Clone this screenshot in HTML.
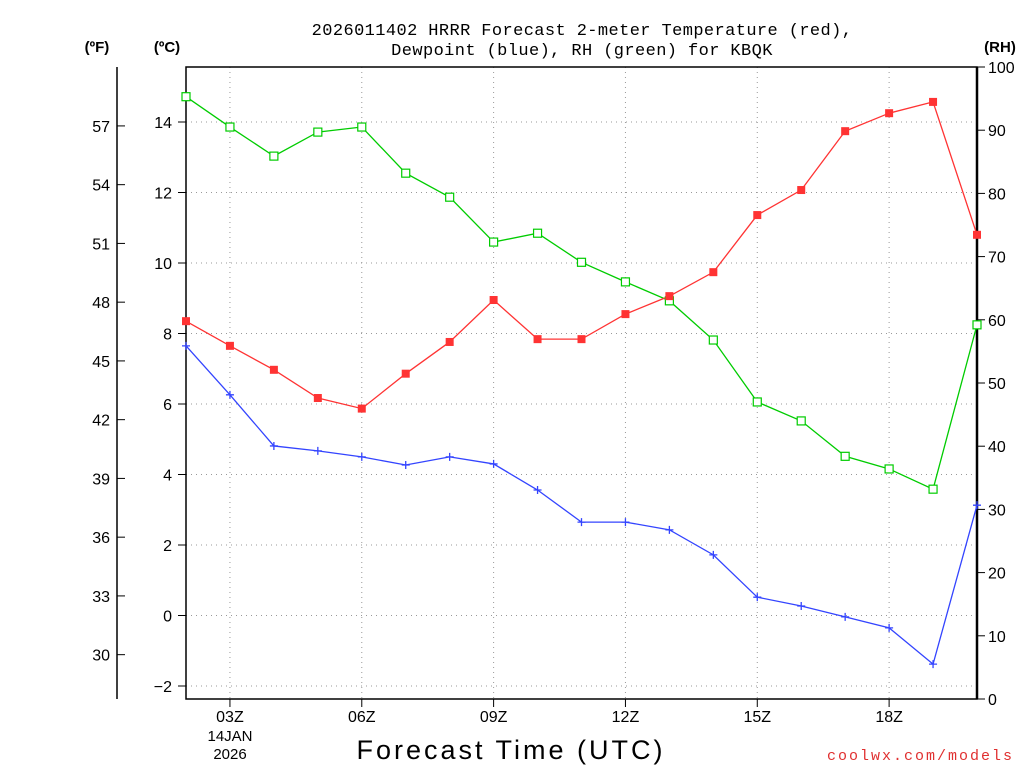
<!DOCTYPE html>
<html><head><meta charset="utf-8"><style>
html,body{margin:0;padding:0;background:#fff;}
svg{display:block;font-family:"Liberation Sans",sans-serif;}
</style></head><body>
<svg id="chart" width="1024" height="768" viewBox="0 0 1024 768">
<g id="grid"></g>
<g id="axes"></g>
<g id="series"></g>
<text x="582" y="35" text-anchor="middle" font-size="17" font-family="Liberation Mono, monospace" letter-spacing="0.4">2026011402 HRRR Forecast 2-meter Temperature (red),</text>
<text x="582" y="55" text-anchor="middle" font-size="17" font-family="Liberation Mono, monospace" letter-spacing="0.4">Dewpoint (blue), RH (green) for KBQK</text>
<text x="97" y="52" text-anchor="middle" font-size="15" font-weight="bold">(ºF)</text>
<text x="167" y="52" text-anchor="middle" font-size="15" font-weight="bold">(ºC)</text>
<text x="1000" y="52" text-anchor="middle" font-size="15" font-weight="bold">(RH)</text>
<text x="511" y="759" text-anchor="middle" font-size="27" letter-spacing="3">Forecast Time (UTC)</text>
<text x="1014" y="760" text-anchor="end" font-size="15" font-family="Liberation Mono, monospace" fill="#e03030" letter-spacing="2">coolwx.com/models</text>
<text x="230" y="741" text-anchor="middle" font-size="15">14JAN</text>
<text x="230" y="759" text-anchor="middle" font-size="15">2026</text>
</svg>
<script>
const hours=[2,3,4,5,6,7,8,9,10,11,12,13,14,15,16,17,18,19,20];
const tempC=[8.35,7.65,6.97,6.17,5.87,6.86,7.76,8.95,7.84,7.84,8.55,9.06,9.74,11.36,12.07,13.74,14.25,14.57,10.8];
const dewC=[7.65,6.26,4.81,4.67,4.50,4.27,4.50,4.30,3.56,2.65,2.65,2.43,1.72,0.52,0.27,-0.04,-0.35,-1.38,3.13];
const rh=[95.3,90.5,85.9,89.7,90.5,83.2,79.4,72.3,73.7,69.1,66.0,63.0,56.8,47.0,44.0,38.4,36.4,33.2,59.2];
const cTicks=[-2,0,2,4,6,8,10,12,14];
const fTicks=[30,33,36,39,42,45,48,51,54,57];
const rhTicks=[0,10,20,30,40,50,60,70,80,90,100];
const xTicks=[3,6,9,12,15,18];
const xTickLabels=["03Z","06Z","09Z","12Z","15Z","18Z"];

const NS="http://www.w3.org/2000/svg";
const L=186,R=977,T=67,B=699;
const xS=h=>L+(h-2)*(R-L)/18;
const yC=c=>615.5-c*35.25;
const yF=f=>yC((f-32)/1.8);
const yRH=v=>B-v*(B-T)/100;
function mk(tag,attrs,parent,txt){const e=document.createElementNS(NS,tag);for(const k in attrs)e.setAttribute(k,attrs[k]);if(txt!==undefined)e.textContent=txt;document.getElementById(parent).appendChild(e);return e;}

cTicks.forEach(c=>{const e=mk('line',{x1:L,x2:R,y1:yC(c),y2:yC(c),stroke:'#999','stroke-dasharray':'1,4'},'grid');

});
xTicks.forEach(h=>{const e=mk('line',{x1:xS(h),x2:xS(h),y1:T,y2:B,stroke:'#999','stroke-dasharray':'1,4'},'grid');

});

const fr=mk('rect',{x:L,y:T,width:R-L,height:B-T,fill:'none',stroke:'#000','stroke-width':1.5},'axes');


const rax=mk('line',{x1:R,x2:R,y1:T,y2:B,stroke:'#000','stroke-width':2.5},'axes');


const fax=mk('line',{x1:117,x2:117,y1:T,y2:B,stroke:'#000','stroke-width':1.5},'axes');



cTicks.forEach(c=>{mk('line',{x1:L-8,x2:L,y1:yC(c),y2:yC(c),stroke:'#000'},'axes');
const t=mk('text',{x:L-14,y:yC(c)+6,'text-anchor':'end','font-size':16},'axes',c<0?'\u2212'+(-c):String(c));

});
fTicks.forEach(f=>{mk('line',{x1:117,x2:125,y1:yF(f),y2:yF(f),stroke:'#000'},'axes');
const t=mk('text',{x:110,y:yF(f)+6,'text-anchor':'end','font-size':16},'axes',String(f));

});
rhTicks.forEach(v=>{mk('line',{x1:R,x2:R+8,y1:yRH(v),y2:yRH(v),stroke:'#000'},'axes');
const t=mk('text',{x:988,y:yRH(v)+6,'font-size':16},'axes',String(v));

});
xTicks.forEach((h,i)=>{mk('line',{x1:xS(h),x2:xS(h),y1:B,y2:B+8,stroke:'#000'},'axes');
const t=mk('text',{x:xS(h),y:722,'text-anchor':'middle','font-size':16},'axes',xTickLabels[i]);

});

function line(vals,yf,color,name){
 const pts=vals.map((v,i)=>xS(hours[i])+','+yf(v)).join(' ');
 const p=mk('polyline',{points:pts,fill:'none',stroke:color,'stroke-width':1.3},'series');
 
 
}
line(rh,yRH,'#00cc00','rh');
line(tempC,yC,'#ff3333','temperature');
line(dewC,yC,'#3344ff','dewpoint');
rh.forEach((v,i)=>{const m=mk('rect',{x:xS(hours[i])-4,y:yRH(v)-4,width:8,height:8,fill:'#fff',stroke:'#00cc00','stroke-width':1.2},'series');

});
tempC.forEach((v,i)=>{const m=mk('rect',{x:xS(hours[i])-4,y:yC(v)-4,width:8,height:8,fill:'#ff3333'},'series');

});
dewC.forEach((v,i)=>{const x=xS(hours[i]),y=yC(v);const m=mk('path',{d:`M${x-4},${y}H${x+4}M${x},${y-4}V${y+4}`,stroke:'#3344ff','stroke-width':1.3},'series');

});
</script>
</body></html>
